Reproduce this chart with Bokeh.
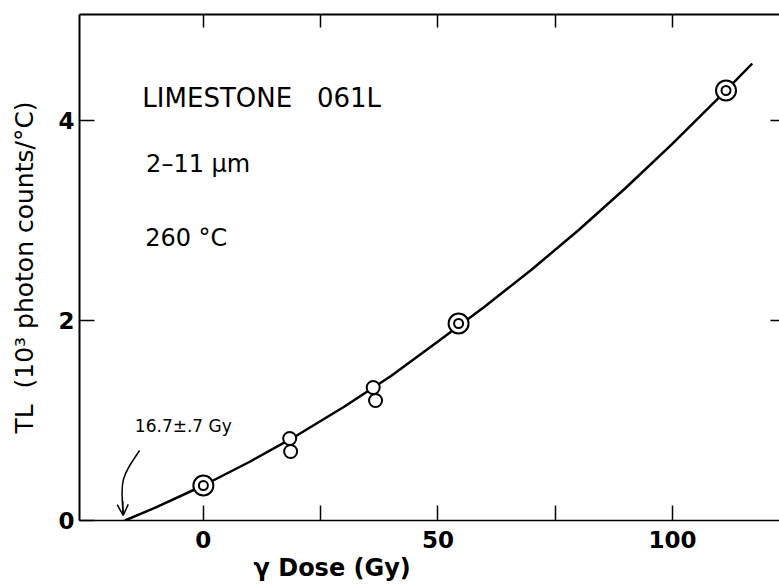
from bokeh.plotting import figure
from bokeh.models import Range1d, FixedTicker, LinearAxis, Title, Label, Arrow, OpenHead, ColumnDataSource
from bokeh.embed import file_html
from bokeh.resources import INLINE

# ---- data ----
dose_double = [0.0, 54.4, 111.4]
tl_double = [0.35, 1.97, 4.30]

dose_single = [18.4, 18.6, 36.2, 36.7]
tl_single = [0.82, 0.69, 1.33, 1.20]

# fitted growth curve
curve_dose = [-16.7, -10, 0, 10, 20, 30, 40, 50, 60, 70, 80, 90, 100, 110, 117]
curve_tl = [0.0, 0.133, 0.35, 0.59, 0.852, 1.138, 1.445, 1.79, 2.14, 2.51, 2.905, 3.325, 3.768, 4.233, 4.57]

x_label_ticks = [0, 50, 100]
x_minor_ticks = [25, 75]
x_all_ticks = [0, 25, 50, 75, 100]
y_ticks = [0, 2, 4]
y_right_ticks = [2, 4]

FONT = "DejaVu Sans"
NB = "\u00a0"

p = figure(width=779, height=584,
           x_range=Range1d(-26.4, 122.8), y_range=Range1d(0, 5.06),
           output_backend="svg", toolbar_location=None,
           min_border_left=79, min_border_right=0,
           min_border_top=14, min_border_bottom=64)
p.grid.visible = False
p.outline_line_color = None
p.background_fill_color = "white"
p.border_fill_color = "white"

# bottom axis
xa = p.xaxis[0]
xa.ticker = FixedTicker(ticks=x_label_ticks, minor_ticks=x_minor_ticks)
xa.major_tick_in = 15
xa.major_tick_out = 0
xa.minor_tick_in = 15
xa.minor_tick_out = 0
xa.minor_tick_line_width = 1.5
xa.axis_line_width = 1.5
xa.major_tick_line_width = 1.5
xa.major_label_text_font = FONT
xa.major_label_text_font_size = "23px"
xa.major_label_text_font_style = "bold"
xa.major_label_text_color = "black"
xa.major_label_standoff = 10

# left axis
ya = p.yaxis[0]
ya.ticker = FixedTicker(ticks=y_ticks)
ya.major_tick_in = 15
ya.major_tick_out = 0
ya.minor_tick_line_color = None
ya.axis_line_width = 2
ya.major_tick_line_width = 1.5
ya.major_label_text_font = FONT
ya.major_label_text_font_size = "23px"
ya.major_label_text_font_style = "bold"
ya.major_label_text_color = "black"
ya.major_label_standoff = 5
ya.axis_label = "TL" + NB + NB + "(10³ photon counts/°C)"
ya.axis_label_text_font = FONT
ya.axis_label_text_font_size = "25px"
ya.axis_label_text_font_style = "normal"
ya.axis_label_text_color = "black"
ya.axis_label_standoff = 16

# top axis (ticks only, as minor ticks so that no labels are drawn)
ta = LinearAxis(ticker=FixedTicker(ticks=[], minor_ticks=x_all_ticks),
                minor_tick_in=13, minor_tick_out=0, minor_tick_line_width=1.5,
                major_tick_line_color=None, axis_line_width=2, major_label_standoff=0)
p.add_layout(ta, "above")

# right axis (ticks only)
ra = LinearAxis(ticker=FixedTicker(ticks=[], minor_ticks=y_right_ticks),
                minor_tick_in=9, minor_tick_out=0, minor_tick_line_width=1.5,
                major_tick_line_color=None, axis_line_color=None, major_label_standoff=0)
p.add_layout(ra, "right")

# x label as a title below, placed like the original
p.add_layout(Title(text="γ Dose (Gy)", align="left", offset=174,
                   text_font=FONT, text_font_size="24px", text_font_style="bold",
                   text_color="black", standoff=2), "below")

# curve
p.line(curve_dose, curve_tl, line_color="black", line_width=2.5)

# markers
src_d = ColumnDataSource(dict(x=dose_double, y=tl_double))
src_s = ColumnDataSource(dict(x=dose_single, y=tl_single))
p.scatter("x", "y", source=src_d, marker="circle", size=20, fill_color="white",
          line_color="black", line_width=2)
p.scatter("x", "y", source=src_d, marker="circle", size=9, fill_color="white",
          line_color="black", line_width=2)
p.scatter("x", "y", source=src_s, marker="circle", size=13, fill_color="white",
          line_color="black", line_width=2)

# texts
for txt, xx, yy, fs in [("LIMESTONE" + NB + NB + NB + "061L", -13.0, 4.23, "26px"),
                        ("2–11 µm", -12.2, 3.57, "24px"),
                        ("260 °C", -12.4, 2.83, "24px")]:
    p.add_layout(Label(x=xx, y=yy, text=txt, text_font=FONT, text_font_size=fs,
                       text_baseline="middle", text_align="left", text_color="black"))

p.add_layout(Label(x=-14.6, y=0.95, text="16.7±.7 Gy", text_font=FONT,
                   text_font_size="17px", text_baseline="middle", text_align="left",
                   text_color="black"))

# curved arrow to the intercept
p.bezier(x0=[-13.6], y0=[0.70], x1=[-17.1], y1=[0.06], cx0=[-17.6], cy0=[0.42],
         cx1=[-17.6], cy1=[0.42], line_color="black", line_width=1.5)
p.add_layout(Arrow(end=OpenHead(size=11, line_width=1.5, line_color="black"),
                   x_start=-17.2, y_start=0.2, x_end=-17.1, y_end=0.05,
                   line_color="black", line_width=1.5))

open("out.html", "w").write(file_html(p, INLINE))
